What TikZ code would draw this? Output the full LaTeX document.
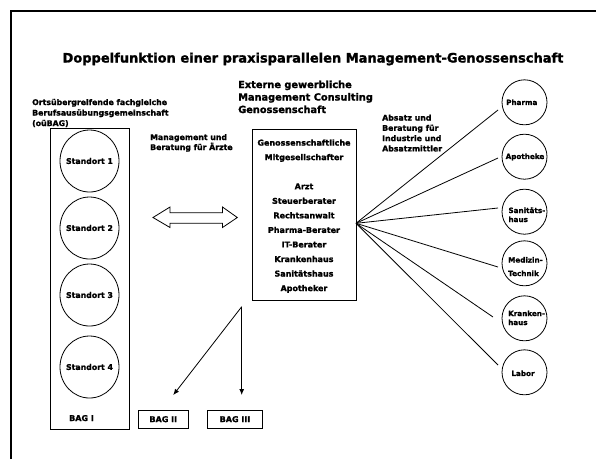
\documentclass[tikz,border=0pt]{standalone}
\usepackage{fontspec}
\setmainfont{DejaVu Sans}[BoldFeatures={FakeBold=1.5}]
\usetikzlibrary{shapes.geometric,arrows.meta}
\begin{document}
\begin{tikzpicture}[x=1pt,y=-1pt,
  lbl/.style={inner sep=0pt, font=\bfseries\fontsize{7.8}{10}\selectfont},
  cbx/.style={inner sep=0pt, font=\bfseries\fontsize{8}{10}\selectfont},
  sml/.style={inner sep=0pt, font=\bfseries\fontsize{7.2}{9}\selectfont},
  big/.style={inner sep=0pt, font=\bfseries\fontsize{9.8}{12}\selectfont},
  ttl/.style={inner sep=0pt, font=\bfseries\fontsize{13}{15}\selectfont},
  thin/.style={line width=0.8pt},
  box/.style={draw, thin, rectangle, inner sep=0pt},
  loc/.style={draw, thin, ellipse, minimum width=59pt, minimum height=62pt, inner sep=0pt},
  partner/.style={draw, thin, circle, minimum size=45pt, inner sep=0pt},
  tip/.style={-{Latex[length=6pt,width=5pt]}, thin}
]
\useasboundingbox (0,0) rectangle (596,459);
% frame
\draw[line width=2pt] (11,459) -- (11,11) -- (596,11);

% title
\node[ttl, anchor=base] (title) at (313,62.5) {Doppelfunktion einer praxisparallelen Management-Genossenschaft};

% left heading
\node[lbl, anchor=base west] (oh1) at (32,105) {Ortsübergreifende fachgleiche};
\node[lbl, anchor=base west] (oh2) at (32,115.5) {Berufsausübungsgemeinschaft};
\node[lbl, anchor=base west] (oh3) at (32,126) {(oüBAG)};

% middle heading
\node[big, anchor=base west] (eh1) at (238,88) {Externe gewerbliche};
\node[big, anchor=base west] (eh2) at (238,100.5) {Management Consulting};
\node[big, anchor=base west] (eh3) at (238,113) {Genossenschaft};

% management label
\node[lbl, anchor=base west] (mb1) at (150,140) {Management und};
\node[lbl, anchor=base west] (mb2) at (150,150) {Beratung für Ärzte};

% Absatz label
\node[lbl, anchor=base west] (ab1) at (382,120.5) {Absatz und};
\node[lbl, anchor=base west] (ab2) at (382,130.8) {Beratung für};
\node[lbl, anchor=base west] (ab3) at (382,141.1) {Industrie und};
\node[lbl, anchor=base west] (ab4) at (382,151.4) {Absatzmittler};

% left BAG rectangle
\node[box, minimum width=79pt, minimum height=301pt] (bag1) at (89.7,278.5) {};
\foreach \i/\y in {1/161,2/228,3/295,4/367}{
  \node[loc] (s\i) at (89.5,\y) {};
  \node[lbl] (st\i) at (s\i) {Standort \i};
}
\node[cbx, anchor=base] (bag1t) at (81.5,421) {BAG I};

% BAG II / III
\node[box, minimum width=50pt, minimum height=18.5pt] (bag2) at (163.3,419.2) {};
\node[cbx] (bag2t) at (bag2) {BAG II};
\node[box, minimum width=54.6pt, minimum height=18.5pt] (bag3) at (235,419.2) {};
\node[cbx] (bag3t) at (bag3) {BAG III};

% double arrow
\draw[thin] (153,217.5) -- (170,207) -- (170,212.7) -- (222.5,212.7) -- (222.5,207)
  -- (237.3,217.5) -- (222.5,227.5) -- (222.5,223.3) -- (170,223.3) -- (170,227.5) -- cycle;

% central box
\node[box, minimum width=104pt, minimum height=171pt] (gen) at (304,214.5) {};
\foreach \n/\t/\y in {g1/Genossenschaftliche/145.6, g2/Mitgesellschafter/160.1,
  g3/Arzt/189.2, g4/Steuerberater/203.8, g5/Rechtsanwalt/218.3, g6/Pharma-Berater/232.9,
  g7/IT-Berater/247.4, g8/Krankenhaus/262, g9/Sanitätshaus/276.5, g10/Apotheker/291.1}{
  \node[cbx, anchor=base] (\n) at (304,\y) {\t};
}

% right partner circles
\foreach \n/\y in {p1/102.3, p2/156.7, p3/211.7, p4/263.3, p5/318.3, p6/372.3}{
  \node[partner] (\n) at (524.5,\y) {};
}
\node[sml, anchor=west] (p1t) at (506,102.3) {Pharma};
\node[sml, anchor=west] (p2t) at (505.5,157) {Apotheke};
\node[sml, anchor=base west] (p3t) at (508.3,213) {Sanitäts-};
\node[sml, anchor=base west] (p3u) at (508.3,222) {haus};
\node[sml, anchor=base west] (p4t) at (508,262.5) {Medizin-};
\node[sml, anchor=base west] (p4u) at (508,276) {Technik};
\node[sml, anchor=base west] (p5t) at (508,316) {Kranken-};
\node[sml, anchor=base west] (p5u) at (508,325) {haus};
\node[sml] (p6t) at (523,373.3) {Labor};

% fan lines
\coordinate (hub) at (356,223.3);
\coordinate (e1) at (498,110);
\coordinate (e2) at (498,158);
\coordinate (e3) at (498,208);
\coordinate (e4) at (498,267);
\coordinate (e5) at (493,317);
\coordinate (e6) at (498,365);
\foreach \i in {1,...,6}{\draw[thin] (hub) -- (e\i);}

% bottom arrows
\coordinate (split) at (241.7,306.7);
\coordinate (a1) at (173.3,395);
\coordinate (a2) at (241.7,395);
\draw[tip] (split) -- (a1);
\draw[tip] (split) -- (a2);
\end{tikzpicture}
\end{document}
